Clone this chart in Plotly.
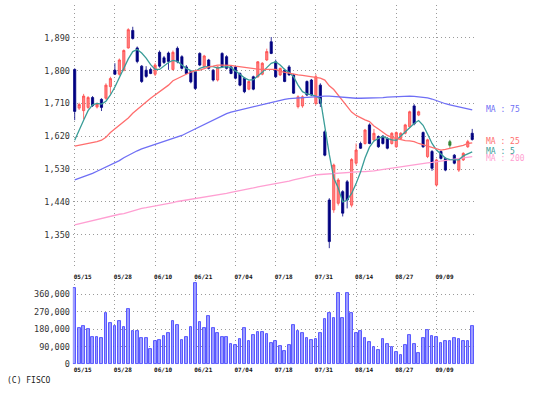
import plotly.graph_objects as go

dates = ["05/15","05/16","05/17","05/20","05/21","05/22","05/23","05/24","05/27","05/28",
         "05/29","05/30","05/31","06/03","06/04","06/05","06/06","06/07","06/10","06/11",
         "06/12","06/13","06/14","06/17","06/18","06/19","06/20","06/21","06/24","06/25",
         "06/26","06/27","06/28","07/01","07/02","07/03","07/04","07/05","07/08","07/09",
         "07/10","07/11","07/12","07/16","07/17","07/18","07/19","07/22","07/23","07/24",
         "07/25","07/26","07/29","07/30","07/31","08/01","08/02","08/05","08/06","08/07",
         "08/08","08/09","08/13","08/14","08/15","08/16","08/19","08/20","08/21","08/22",
         "08/23","08/26","08/27","08/28","08/29","08/30","09/02","09/03","09/04","09/05",
         "09/06","09/09","09/10","09/11","09/12","09/13","09/17","09/18","09/19","09/20"]

opens = [1803,1697,1690,1699,1726,1700,1721,1724,1756,1801,
         1790,1801,1862,1910,1862,1812,1801,1803,1790,1850,
         1835,1848,1803,1861,1838,1810,1797,1797,1847,1811,
         1829,1801,1774,1847,1838,1810,1810,1792,1779,1749,
         1783,1783,1790,1829,1879,1824,1788,1801,1810,1788,
         1701,1703,1770,1774,1710,1760,1632,1445,1418,1436,
         1468,1495,1431,1546,1600,1600,1651,1610,1619,1620,
         1614,1600,1591,1614,1628,1646,1703,1678,1630,1564,
         1578,1486,1578,1559,1605,1568,1527,1555,1591,1628]
highs = [1806,1712,1736,1730,1730,1712,1724,1765,1783,1820,
         1833,1858,1916,1920,1866,1815,1812,1808,1820,1855,
         1840,1852,1855,1866,1842,1815,1800,1800,1850,1843,
         1832,1804,1812,1850,1842,1813,1813,1795,1782,1772,
         1786,1826,1823,1860,1892,1830,1808,1805,1815,1791,
         1732,1732,1773,1777,1790,1765,1636,1450,1545,1505,
         1472,1500,1560,1600,1605,1640,1655,1640,1622,1623,
         1617,1631,1633,1631,1654,1690,1708,1690,1633,1613,
         1582,1558,1581,1562,1610,1571,1558,1576,1610,1640]
lows = [1664,1692,1666,1695,1700,1696,1689,1720,1736,1788,
        1786,1798,1860,1885,1820,1766,1780,1790,1785,1808,
        1818,1802,1800,1820,1803,1790,1765,1747,1812,1808,
        1803,1770,1770,1808,1803,1790,1776,1757,1738,1746,
        1746,1780,1787,1826,1845,1780,1785,1768,1786,1736,
        1696,1698,1730,1730,1705,1700,1565,1313,1410,1430,
        1400,1422,1425,1540,1585,1597,1598,1605,1588,1597,
        1584,1597,1588,1610,1625,1643,1650,1675,1588,1560,
        1525,1482,1556,1524,1588,1543,1522,1552,1588,1608]
closes = [1688,1707,1730,1726,1704,1708,1699,1760,1778,1790,
          1829,1855,1912,1888,1825,1770,1784,1792,1815,1812,
          1822,1825,1850,1824,1806,1792,1769,1751,1815,1840,
          1806,1774,1810,1811,1806,1792,1779,1760,1742,1770,
          1749,1824,1820,1852,1847,1783,1806,1770,1788,1738,
          1728,1728,1733,1733,1783,1710,1568,1331,1541,1500,
          1409,1445,1556,1582,1587,1637,1600,1628,1591,1600,
          1587,1628,1630,1628,1651,1687,1654,1687,1591,1610,
          1532,1555,1559,1527,1595,1546,1555,1573,1605,1611]

# days drawn in green (unchanged marker)
green_days = ["09/12"]

volume = [390700,185000,197000,180000,139000,142000,134000,262000,211000,197000,
          224000,190000,282000,171000,171000,137000,137000,79000,120000,125000,
          147000,159000,224000,202000,125000,142000,194000,416000,216000,188000,
          250000,185000,159000,139000,139000,103000,100000,128000,188000,122000,
          151000,164000,168000,154000,111000,120000,95000,70000,98000,202000,
          171000,159000,137000,125000,130000,159000,231000,265000,236000,368000,
          236000,368000,265000,159000,171000,134000,117000,91000,74000,128000,
          103000,91000,65000,48000,100000,151000,103000,57000,137000,177000,
          146000,142000,108000,122000,122000,134000,128000,122000,122000,197000]

ma5 = [1609,1638,1664,1690,1706,1710,1708,1716,1733,1755,
       1780,1808,1832,1852,1858,1848,1834,1816,1803,1803,
       1813,1822,1828,1825,1815,1806,1800,1797,1806,1810,
       1811,1811,1807,1808,1811,1808,1800,1790,1780,1774,
       1775,1784,1795,1808,1820,1824,1815,1803,1795,1783,
       1760,1742,1736,1733,1730,1722,1640,1570,1505,1478,
       1440,1445,1463,1490,1522,1560,1590,1607,1614,1619,
       1614,1610,1609,1620,1632,1642,1655,1663,1650,1626,
       1600,1582,1570,1560,1556,1555,1555,1566,1572,1577]
ma25 = [1593,1595,1598,1600,1603,1605,1609,1617,1630,1640,
        1650,1660,1670,1683,1694,1704,1714,1724,1733,1743,
        1752,1760,1772,1778,1785,1791,1796,1800,1801,1805,
        1810,1812,1815,1815,1815,1814,1812,1810,1808,1806,
        1805,1804,1803,1803,1804,1803,1798,1795,1793,1790,
        1788,1787,1785,1784,1783,1779,1774,1758,1748,1733,
        1716,1700,1686,1677,1670,1665,1660,1648,1640,1630,
        1622,1617,1614,1610,1608,1607,1605,1600,1596,1592,
        1588,1584,1582,1584,1587,1589,1591,1595,1600,1602]
ma75 = [1500,1504,1508,1513,1518,1524,1530,1536,1541,1546,
        1553,1561,1568,1574,1580,1585,1589,1594,1598,1603,
        1606,1609,1613,1617,1622,1628,1634,1640,1647,1653,
        1660,1666,1672,1678,1682,1686,1689,1692,1695,1697,
        1700,1703,1706,1710,1714,1716,1719,1721,1723,1724,
        1725,1726,1726,1728,1730,1730,1730,1730,1729,1728,
        1726,1724,1724,1724,1724,1724,1724,1724,1725,1726,
        1727,1728,1729,1729,1730,1730,1729,1728,1727,1725,
        1722,1717,1713,1709,1706,1703,1700,1697,1694,1692]
ma200 = [1377,1380,1383,1386,1389,1392,1395,1398,1400,1403,
         1406,1408,1412,1415,1419,1422,1424,1426,1429,1431,
         1434,1436,1438,1441,1443,1445,1447,1448,1449,1451,
         1453,1455,1458,1461,1463,1466,1468,1470,1473,1476,
         1478,1481,1483,1485,1487,1489,1492,1495,1497,1500,
         1503,1506,1509,1512,1514,1515,1516,1517,1518,1518,
         1519,1520,1521,1522,1523,1523,1523,1525,1527,1529,
         1531,1533,1534,1535,1537,1539,1541,1543,1545,1547,
         1548,1550,1551,1552,1554,1556,1558,1560,1562,1564]

tick_dates = ["05/15","05/28","06/10","06/21","07/04","07/18","07/31","08/14","08/27","09/09"]
price_ticks = [1350, 1440, 1530, 1620, 1710, 1800, 1890]
volume_ticks = [0, 90000, 180000, 270000, 360000]

ma_series = [("MA : 75", ma75, "#6f6ff5", 0),
             ("MA : 25", ma25, "#ff6e6e", 1.5),
             ("MA : 5", ma5, "#3a9d98", 0.5),
             ("MA : 200", ma200, "#ff9fd2", -2)]

MONO = "DejaVu Sans Mono"
W, H = 547, 393

fig = go.Figure()

# moving averages
for name, vals, col, _ in ma_series[::-1]:
    fig.add_trace(go.Scatter(x=dates, y=vals, mode="lines",
                             line=dict(color=col, width=1.3),
                             hoverinfo="skip", showlegend=False,
                             xaxis="x", yaxis="y"))

main_idx = [i for i, d in enumerate(dates) if d not in green_days]
green_idx = [i for i, d in enumerate(dates) if d in green_days]

def pick(arr, idx):
    return [arr[i] for i in idx]

fig.add_trace(go.Candlestick(
    x=pick(dates, main_idx), open=pick(opens, main_idx), high=pick(highs, main_idx),
    low=pick(lows, main_idx), close=pick(closes, main_idx),
    increasing=dict(line=dict(color="#ff4a4a", width=0.8), fillcolor="#ff8080"),
    decreasing=dict(line=dict(color="#000080", width=0.8), fillcolor="#000080"),
    whiskerwidth=0, showlegend=False, xaxis="x", yaxis="y"))

fig.add_trace(go.Candlestick(
    x=pick(dates, green_idx), open=pick(opens, green_idx), high=pick(highs, green_idx),
    low=pick(lows, green_idx), close=pick(closes, green_idx),
    increasing=dict(line=dict(color="#2e7d2e", width=0.8), fillcolor="#3c8c3c"),
    decreasing=dict(line=dict(color="#2e7d2e", width=0.8), fillcolor="#3c8c3c"),
    whiskerwidth=0, showlegend=False, xaxis="x", yaxis="y"))

fig.add_trace(go.Bar(x=dates, y=volume, width=0.6,
                     marker=dict(color="#9c9cff", line=dict(color="#3c3cff", width=0.8)),
                     showlegend=False, hoverinfo="skip", xaxis="x2", yaxis="y2"))

x0, x1 = 72.9 / W, 474.9 / W
grid = dict(showgrid=True, gridcolor="#9a9a9a", gridwidth=1, griddash="1px,3px",
            zeroline=False, showline=False, ticks="")

xcommon = dict(type="category", categoryorder="array", categoryarray=dates,
               range=[-0.4, 89.6], domain=[x0, x1], tickmode="array",
               tickvals=tick_dates, ticktext=tick_dates,
               tickfont=dict(family=MONO, size=6, color="#111111", weight="bold"),
               ticklabelshift=8, **grid)

fig.update_layout(
    width=W, height=H,
    margin=dict(l=0, r=0, t=0, b=0, autoexpand=False),
    paper_bgcolor="white", plot_bgcolor="white",
    showlegend=False,
    xaxis=dict(anchor="y", rangeslider=dict(visible=False), ticklabelstandoff=4, **xcommon),
    xaxis2=dict(anchor="y2", matches="x", ticklabelstandoff=1, **xcommon),
    yaxis=dict(domain=[1 - 267.5 / H, 1 - 4.9 / H], range=[1260, 1980],
               tickmode="array", tickvals=price_ticks,
               ticktext=[f"{v:,}" for v in price_ticks], ticklabelstandoff=2,
               tickfont=dict(family=MONO, size=8.5, color="#333333"), **grid),
    yaxis2=dict(domain=[1 - 364.3 / H, 1 - 280 / H], range=[0, 433500],
                tickmode="array", tickvals=volume_ticks,
                ticktext=[f"{v:,}" for v in volume_ticks], ticklabelstandoff=2,
                tickfont=dict(family=MONO, size=8.5, color="#333333"), **grid),
    bargap=0,
)

for name, vals, col, shift in ma_series:
    fig.add_annotation(x=484 / W, xref="paper", y=vals[-1], yref="y",
                       text=name, showarrow=False, xanchor="left", yanchor="middle",
                       yshift=shift,
                       font=dict(family=MONO, size=8, color=col))

fig.add_annotation(x=5 / W, xref="paper", y=1 - 380.7 / H, yref="paper",
                   text="(C) FISCO", showarrow=False, xanchor="left", yanchor="middle",
                   font=dict(family=MONO, size=8, color="#222222"))

fig.write_html("out.html", config={"displayModeBar": False},
               post_script="document.body.style.margin='0';document.body.style.padding='0';")
